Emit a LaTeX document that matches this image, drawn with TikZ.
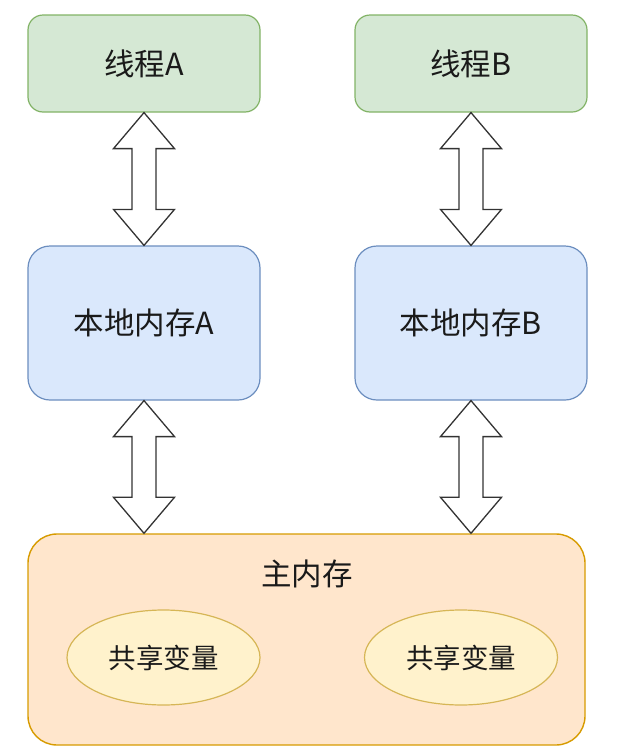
\documentclass[tikz,border=0pt]{standalone}
\usepackage{fontspec}
\setmainfont{Noto Sans CJK SC}
\usetikzlibrary{calc,shapes.geometric}
\definecolor{gfill}{HTML}{D5E8D4}\definecolor{gline}{HTML}{82B366}
\definecolor{bfill}{HTML}{DAE8FC}\definecolor{bline}{HTML}{6C8EBF}
\definecolor{ofill}{HTML}{FFE6CC}\definecolor{oline}{HTML}{D79B00}
\definecolor{yfill}{HTML}{FFF2CC}\definecolor{yline}{HTML}{D6B656}
\definecolor{txt}{HTML}{1A1A1A}\definecolor{arr}{HTML}{333333}
\newcommand\bigdblarrow[2]{%
  \draw[bigarrow] (#1) -- ++(30.5,36) -- ++(-18.5,0) -- ($(#2)+(12,-36)$)
    -- ++(18.5,0) -- (#2) -- ++(-30.5,-36) -- ++(18.5,0) -- ($(#1)+(-12,36)$)
    -- ++(-18.5,0) -- cycle;}
\begin{document}
\begin{tikzpicture}[x=1pt,y=-1pt,
  every node/.style={font=\fontsize{30.5}{36}\selectfont, text=txt},
  thread/.style={draw=gline, fill=gfill, line width=1.2pt, rounded corners=15pt,
    minimum width=232pt, minimum height=97pt, inner sep=0pt},
  localmem/.style={draw=bline, fill=bfill, line width=1.2pt, rounded corners=22pt,
    minimum width=232pt, minimum height=154pt, inner sep=0pt},
  mainmem/.style={draw=oline, fill=ofill, line width=1.4pt, rounded corners=29pt,
    minimum width=557pt, minimum height=211pt, inner sep=0pt},
  sharedvar/.style={ellipse, draw=yline, fill=yfill, line width=1.2pt,
    minimum width=193pt, minimum height=95pt, inner sep=0pt,
    font=\fontsize{27.5}{32}\selectfont},
  bigarrow/.style={draw=arr, fill=white, line width=1.3pt, line join=miter}]
\useasboundingbox (0,0) rectangle (628,753);
\node[thread] (ta) at (144,63.5) {线程A};
\node[thread] (tb) at (471,63.5) {线程B};
\node[localmem] (la) at (144,323) {本地内存A};
\node[localmem] (lb) at (471,323) {本地内存B};
\node[mainmem] (mm) at (306.5,639.5) {};
\node (mmt) at (307,574) {主内存};
\node[sharedvar] (va) at (163.5,657.5) {共享变量};
\node[sharedvar] (vb) at (461,657.5) {共享变量};
\bigdblarrow{ta.south}{la.north}
\bigdblarrow{tb.south}{lb.north}
\bigdblarrow{la.south}{la.south |- mm.north}
\bigdblarrow{lb.south}{lb.south |- mm.north}
\end{tikzpicture}
\end{document}
